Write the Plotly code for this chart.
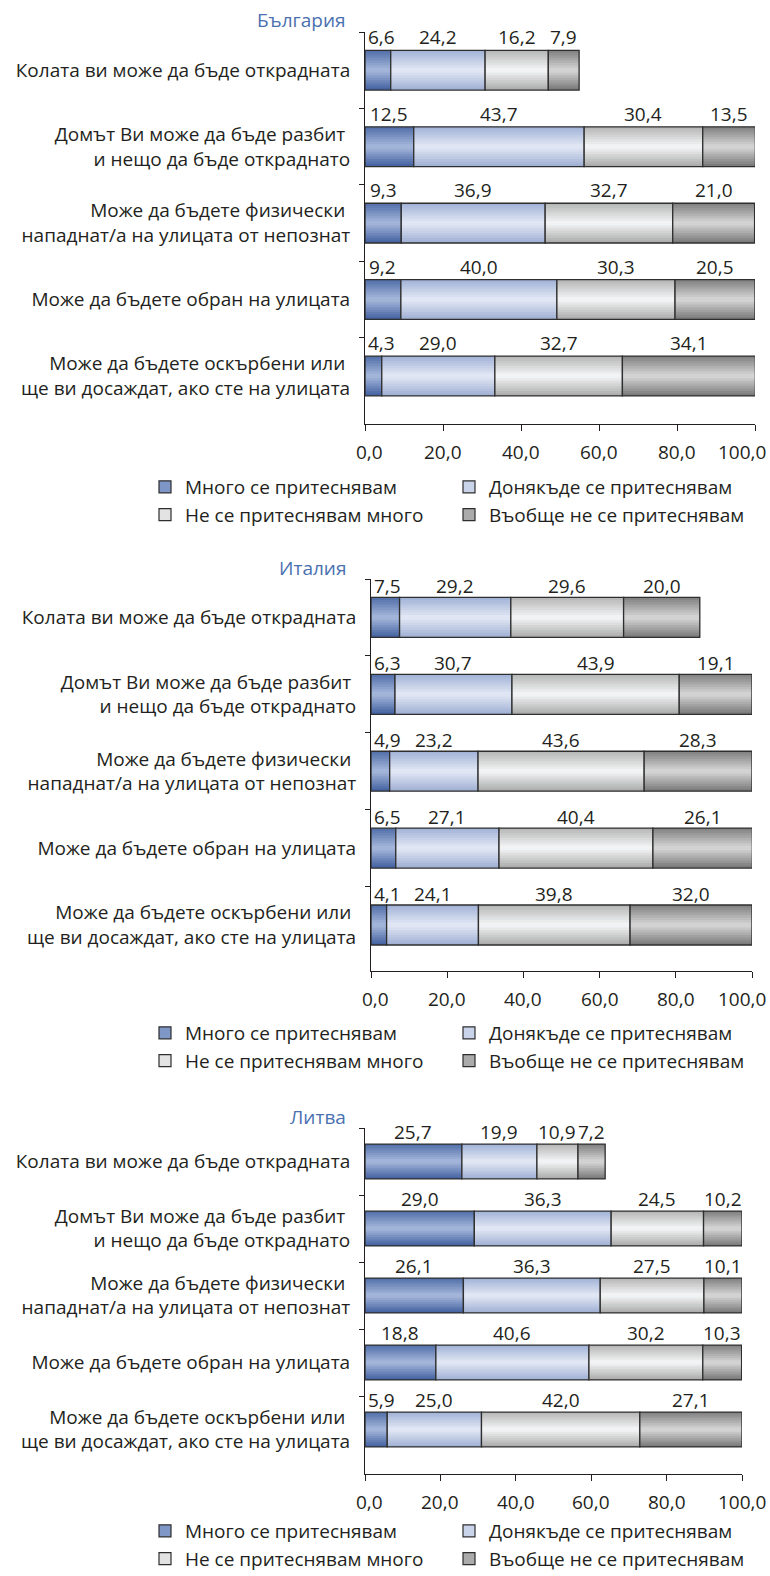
import plotly.graph_objects as go

W, H = 770, 1576
FONT = "Open Sans"
FS = 19
TEXT = "#231f20"

categories = [
    "Колата ви може да бъде открадната",
    "Домът Ви може да бъде разбит\u00a0<br>и нещо да бъде откраднато",
    "Може да бъдете физически\u00a0<br>нападнат/а на улицата от непознат",
    "Може да бъдете обран на улицата",
    "Може да бъдете оскърбени или\u00a0<br>ще ви досаждат, ако сте на улицата",
]

series_names = [
    "Много се притеснявам",
    "Донякъде се притеснявам",
    "Не се притеснявам много",
    "Въобще не се притеснявам",
]

countries = ["България", "Италия", "Литва"]

# България
bg_very = [6.6, 12.5, 9.3, 9.2, 4.3]
bg_somewhat = [24.2, 43.7, 36.9, 40.0, 29.0]
bg_not_much = [16.2, 30.4, 32.7, 30.3, 32.7]
bg_not_at_all = [7.9, 13.5, 21.0, 20.5, 34.1]

# Италия
it_very = [7.5, 6.3, 4.9, 6.5, 4.1]
it_somewhat = [29.2, 30.7, 23.2, 27.1, 24.1]
it_not_much = [29.6, 43.9, 43.6, 40.4, 39.8]
it_not_at_all = [20.0, 19.1, 28.3, 26.1, 32.0]

# Литва
lt_very = [25.7, 29.0, 26.1, 18.8, 5.9]
lt_somewhat = [19.9, 36.3, 36.3, 40.6, 25.0]
lt_not_much = [10.9, 24.5, 27.5, 30.2, 42.0]
lt_not_at_all = [7.2, 10.2, 10.1, 10.3, 27.1]

panel_values = [
    [bg_very, bg_somewhat, bg_not_much, bg_not_at_all],
    [it_very, it_somewhat, it_not_much, it_not_at_all],
    [lt_very, lt_somewhat, lt_not_much, lt_not_at_all],
]

x_ticks = [0, 20, 40, 60, 80, 100]
x_tick_text = ["0,0", "20,0", "40,0", "60,0", "80,0", "100,0"]

# pixel geometry of each panel: plot box, title and legend placement
panels = [
    dict(x0=365, x1=755, y0=32, y1=424, title_y=20, legend_y=468, label_shift=33),
    dict(x0=371, x1=752, y0=579, y1=971, title_y=568, legend_y=1014, label_shift=31),
    dict(x0=365, x1=742, y0=1128, y1=1474, title_y=1117, legend_y=1512, label_shift=29.5),
]

# vertical shading stops for each series: (position, rgb) from top to bottom edge
shading = [
    [(0.0, (80, 110, 168)), (0.5, (168, 185, 220)), (1.0, (64, 95, 158))],
    [(0.0, (160, 177, 214)), (0.5, (228, 233, 245)), (1.0, (158, 174, 211))],
    [(0.0, (180, 180, 180)), (0.5, (246, 247, 248)), (1.0, (168, 168, 168))],
    [(0.0, (126, 126, 126)), (0.5, (216, 216, 216)), (1.0, (118, 118, 118))],
]
legend_fill = ["#7f97c6", "#c9d3ea", "#e3e3e3", "#ababab"]
OUTLINE = "#2e2e2e"

BAR_W = 0.52
N_STRIPS = 16


def shade(stops, t):
    for (t0, c0), (t1, c1) in zip(stops, stops[1:]):
        if t <= t1:
            f = (t - t0) / (t1 - t0)
            return "rgb(%d,%d,%d)" % tuple(round(a + (b - a) * f) for a, b in zip(c0, c1))
    return "rgb(%d,%d,%d)" % stops[-1][1]


fig = go.Figure()
annotations = []

for p, (geo, values, country) in enumerate(zip(panels, panel_values, countries)):
    sfx = "" if p == 0 else str(p + 1)
    xa, ya = "x" + sfx, "y" + sfx
    legend_id = "legend" + sfx

    bases = [[0.0] * len(categories)]
    for vals in values[:-1]:
        bases.append([b + v for b, v in zip(bases[-1], vals)])

    for s, vals in enumerate(values):
        base = bases[s]
        # shaded strips stacked across the bar thickness
        step = BAR_W / N_STRIPS
        for i in range(N_STRIPS):
            off = -BAR_W / 2 + i * step
            width = min(step * 1.8, BAR_W / 2 - off)
            fig.add_trace(go.Bar(
                orientation="h", y=categories, x=vals, base=base,
                width=width, offset=off,
                marker=dict(color=shade(shading[s], (i + 0.5) / N_STRIPS), line=dict(width=0)),
                xaxis=xa, yaxis=ya, showlegend=False, hoverinfo="skip",
            ))
        # segment outline
        fig.add_trace(go.Bar(
            orientation="h", y=categories, x=vals, base=base,
            width=BAR_W, offset=-BAR_W / 2,
            marker=dict(color="rgba(0,0,0,0)", line=dict(color=OUTLINE, width=1.3)),
            xaxis=xa, yaxis=ya, showlegend=False,
            hovertemplate="%{y}<br>" + series_names[s] + ": %{x:.1f}<extra></extra>",
        ))
        # legend entry
        fig.add_trace(go.Bar(
            orientation="h", x=[None], y=[None], name=series_names[s],
            marker=dict(color=legend_fill[s], line=dict(color=OUTLINE, width=1.2)),
            xaxis=xa, yaxis=ya, legend=legend_id, showlegend=True,
        ))

        # value labels above each segment
        for cat, v, b in zip(categories, vals, base):
            centre = b + v / 2
            centre_px = centre / 100 * (geo["x1"] - geo["x0"])
            ann = dict(
                text=f"{v:.1f}".replace(".", ","), xref=xa, yref=ya, y=cat,
                yshift=geo["label_shift"], showarrow=False,
                font=dict(family=FONT, size=FS, color=TEXT),
            )
            if centre_px < 17:
                ann.update(x=0, xanchor="left", xshift=1)
            else:
                ann.update(x=centre, xanchor="center")
            annotations.append(ann)

    annotations.append(dict(
        text=country, xref="paper", yref="paper", x=348 / W, y=1 - geo["title_y"] / H,
        xanchor="right", yanchor="middle", showarrow=False,
        font=dict(family=FONT, size=FS, color="#4a70b0"),
    ))

    # x tick labels; the outer ones are nudged inward to stay on the page
    for k, (tv, tt) in enumerate(zip(x_ticks, x_tick_text)):
        shift = 0
        if k == 0:
            shift = 4
        elif k == len(x_ticks) - 1:
            shift = min(0, 766 - (geo["x1"] + 24))
        annotations.append(dict(
            text=tt, xref=xa, yref="paper", x=tv,
            y=1 - (geo["y1"] + 28) / H, xanchor="center", yanchor="middle",
            xshift=shift, showarrow=False,
            font=dict(family=FONT, size=FS, color=TEXT),
        ))

    fig.update_layout({
        "xaxis" + sfx: dict(
            domain=[geo["x0"] / W, geo["x1"] / W], anchor=ya, range=[0, 100],
            tickvals=x_ticks, showticklabels=False,
            showline=True, linecolor=TEXT, linewidth=1,
            ticks="outside", ticklen=6, tickcolor=TEXT, showgrid=False, zeroline=False,
        ),
        "yaxis" + sfx: dict(
            domain=[1 - geo["y1"] / H, 1 - geo["y0"] / H], anchor=xa, type="category",
            categoryorder="array", categoryarray=categories, autorange="reversed",
            tickson="boundaries", ticks="outside", ticklen=5, tickcolor=TEXT,
            showline=True, linecolor=TEXT, linewidth=1, showgrid=False, zeroline=False,
            ticklabelstandoff=10, tickfont=dict(family=FONT, size=FS, color=TEXT),
        ),
        legend_id: dict(
            orientation="h", x=145 / W, xanchor="left", y=1 - geo["legend_y"] / H,
            yanchor="top", entrywidth=259, entrywidthmode="pixels",
            font=dict(family=FONT, size=FS, color=TEXT), bgcolor="rgba(0,0,0,0)",
            traceorder="normal", itemclick=False, itemdoubleclick=False,
        ),
    })

fig.update_layout(
    width=W, height=H, margin=dict(l=0, r=0, t=0, b=0, autoexpand=False),
    barmode="overlay", separators=", ",
    paper_bgcolor="white", plot_bgcolor="white",
    font=dict(family=FONT, size=FS, color=TEXT),
    annotations=annotations,
)

fig.write_html("out.html")
